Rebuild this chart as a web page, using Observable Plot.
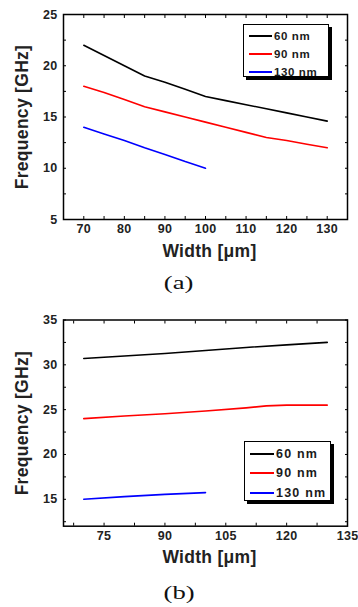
<!DOCTYPE html>
<html>
<head>
<meta charset="utf-8">
<script src="https://cdn.jsdelivr.net/npm/d3@7"></script>
<script src="https://cdn.jsdelivr.net/npm/@observablehq/plot@0.6"></script>
<style>
  body { margin: 0; background: #fff; }
  #wrap { position: relative; width: 358px; height: 607px; overflow: hidden; font-family: "Liberation Sans", Arial, sans-serif; }
  .chart { position: absolute; left: 0; }
  .legend { position: absolute; background: #fff; border: 1px solid #000; box-shadow: 3px 3px 0 #000; font-weight: bold; color: #1a1a1a; box-sizing: border-box; }
  .legend .row { display: flex; align-items: center; white-space: nowrap; }
  .legend .sw { display: inline-block; height: 0; border-top: 2px solid; }
  .cap { position: absolute; width: 358px; text-align: center; font-family: "Liberation Serif", "Times New Roman", serif; font-size: 19px; color: #111; }
  .cap span { display: inline-block; transform: scaleX(1.4); }
</style>
</head>
<body>
<div id="wrap"></div>
<script>
// ---- data: panel (a)
const widthA60 = [70, 75, 80, 85, 90, 95, 100, 105, 110, 115, 120, 125, 130];
const freqA60  = [22, 21, 20, 19, 18.4, 17.7, 17, 16.6, 16.2, 15.8, 15.4, 15.0, 14.6];
const widthA90 = [70, 75, 80, 85, 90, 95, 100, 105, 110, 115, 120, 125, 130];
const freqA90  = [18, 17.4, 16.7, 16, 15.5, 15, 14.5, 14, 13.5, 13, 12.7, 12.35, 12];
const widthA130 = [70, 75, 80, 85, 90, 95, 100];
const freqA130  = [14, 13.35, 12.7, 12.0, 11.35, 10.65, 10];
// ---- data: panel (b)
const widthB60 = [70, 80, 90, 100, 110, 120, 130];
const freqB60  = [30.7, 30.98, 31.26, 31.6, 31.94, 32.22, 32.5];
const widthB90 = [70, 80, 90, 100, 110, 115, 120, 130];
const freqB90  = [24.0, 24.3, 24.55, 24.85, 25.2, 25.42, 25.5, 25.5];
const widthB130 = [70, 80, 90, 100];
const freqB130  = [15.0, 15.3, 15.55, 15.75];

const seriesNames = ["60 nm", "90 nm", "130 nm"];
const seriesColors = ["#000000", "#ff0000", "#0000ff"];

// tick labels
const xTicksA = [70, 80, 90, 100, 110, 120, 130];
const xMinorA = [65, 70, 75, 80, 85, 90, 95, 100, 105, 110, 115, 120, 125, 130, 135];
const yTicksA = [5, 10, 15, 20, 25];
const yMinorA = [5, 7.5, 10, 12.5, 15, 17.5, 20, 22.5, 25];
const xTicksB = [75, 90, 105, 120, 135];
const xMinorB = [67.5, 75, 82.5, 90, 97.5, 105, 112.5, 120, 127.5, 135];
const yTicksB = [15, 20, 25, 30, 35];
const yMinorB = [12.5, 15, 17.5, 20, 22.5, 25, 27.5, 30, 32.5, 35];

function rows(ws, fs, name) { return ws.map((w, i) => ({w, f: fs[i], s: name})); }
const dataA = [...rows(widthA60, freqA60, "60 nm"), ...rows(widthA90, freqA90, "90 nm"), ...rows(widthA130, freqA130, "130 nm")];
const dataB = [...rows(widthB60, freqB60, "60 nm"), ...rows(widthB90, freqB90, "90 nm"), ...rows(widthB130, freqB130, "130 nm")];

const empty = () => "";

function panel(data, opt) {
  const svg = Plot.plot({
    width: 358,
    height: opt.height,
    marginLeft: 63, marginRight: 11, marginTop: opt.mt, marginBottom: opt.mb,
    style: {fontFamily: "'Liberation Sans', Arial, sans-serif", fontSize: "12.5px", fontWeight: "bold", color: "#222", background: "transparent", letterSpacing: "0.3px"},
    x: {domain: opt.xd},
    y: {domain: opt.yd},
    color: {domain: seriesNames, range: seriesColors},
    marks: [
      Plot.line(data, {x: "w", y: "f", z: "s", stroke: "s", strokeWidth: 1.6}),
      Plot.frame({stroke: "#000", strokeWidth: 1.5}),
      // tick labels
      Plot.axisX(opt.xt, {anchor: "bottom", tickSize: 0, tickPadding: 5, label: null}),
      Plot.axisY(opt.yt, {anchor: "left", tickSize: 0, tickPadding: 6, label: null}),
      // inward ticks on all four sides
      Plot.axisX(opt.xm, {anchor: "bottom", tickSize: -3, tickFormat: empty, label: null, stroke: "#000"}),
      Plot.axisX(opt.xm, {anchor: "top", tickSize: -3, tickFormat: empty, label: null, stroke: "#000"}),
      Plot.axisY(opt.ym, {anchor: "left", tickSize: -3, tickFormat: empty, label: null, stroke: "#000"}),
      Plot.axisY(opt.ym, {anchor: "right", tickSize: -3, tickFormat: empty, label: null, stroke: "#000"}),
      // axis titles
      Plot.text(["Width [μm]"], {frameAnchor: "bottom", dy: opt.xLabelDy, dx: 4, lineAnchor: "middle", fontSize: 17.5, fontWeight: "bold", fill: "#222"}),
      Plot.text(["Frequency [GHz]"], {frameAnchor: "left", dx: -41, rotate: -90, lineAnchor: "middle", textAnchor: "middle", fontSize: 17.5, fontWeight: "bold", fill: "#222"})
    ]
  });
  return svg;
}

const wrap = document.getElementById("wrap");

const a = panel(dataA, {height: 270, mt: 14, mb: 51, xd: [65, 135], yd: [5, 25], xt: xTicksA, yt: yTicksA, xm: xMinorA, ym: yMinorA, xLabelDy: 32});
a.classList.add("chart"); a.style.top = "0px";
wrap.appendChild(a);

const b = panel(dataB, {height: 270, mt: 19.5, mb: 44.3, xd: [65, 135], yd: [12, 35], xt: xTicksB, yt: yTicksB, xm: xMinorB, ym: yMinorB, xLabelDy: 31.5});
b.classList.add("chart"); b.style.top = "300px";
wrap.appendChild(b);

function legend(left, top, w, h, fontSize, spacing, rowH, padTop, lineW) {
  const L = document.createElement("div");
  L.className = "legend";
  Object.assign(L.style, {left: left + "px", top: top + "px", width: w + "px", height: h + "px", fontSize: fontSize + "px", letterSpacing: spacing + "px", paddingTop: padTop + "px", paddingLeft: "5px"});
  seriesNames.forEach((n, i) => {
    const r = document.createElement("div");
    r.className = "row";
    r.style.height = rowH + "px";
    const sw = document.createElement("span");
    sw.className = "sw";
    sw.style.width = lineW + "px";
    sw.style.borderTopColor = seriesColors[i];
    sw.style.marginRight = "2px";
    const t = document.createElement("span");
    t.textContent = n;
    r.appendChild(sw); r.appendChild(t);
    L.appendChild(r);
  });
  wrap.appendChild(L);
}
legend(243, 24, 86, 53, 11.5, 0.6, 18.3, 1.5, 23);
legend(244, 441, 87, 60, 12.5, 1.2, 19.3, 2.5, 24);

function caption(text, top) {
  const c = document.createElement("div");
  c.className = "cap";
  c.style.top = top + "px";
  const s = document.createElement("span");
  s.textContent = text;
  c.appendChild(s);
  wrap.appendChild(c);
}
caption("(a)", 272);
caption("(b)", 582);
</script>
</body>
</html>
